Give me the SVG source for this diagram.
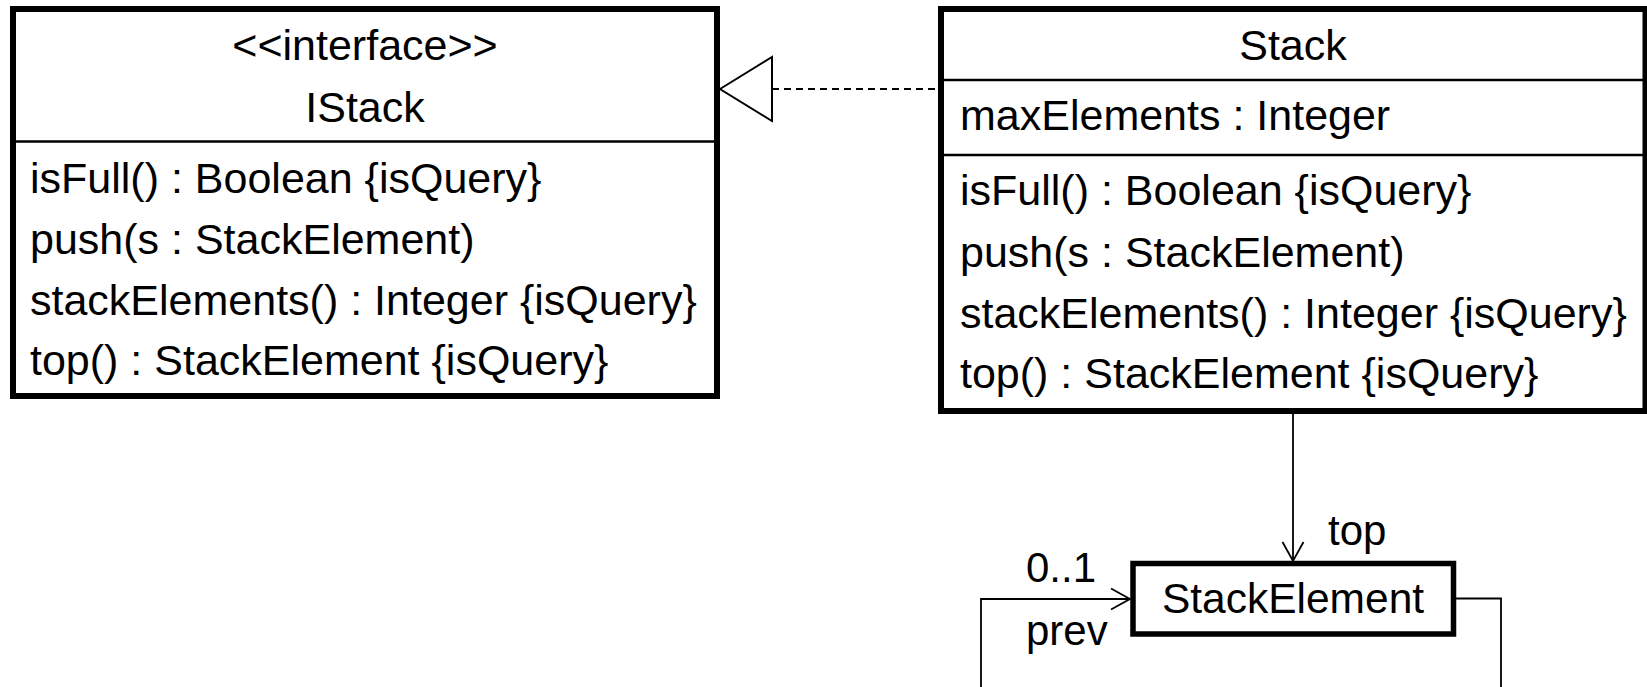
<svg xmlns="http://www.w3.org/2000/svg" width="1647" height="687" viewBox="0 0 1647 687">
<style>
  text { font-family: "Liberation Sans", Arial, sans-serif; font-size: 42px; fill: #000; }
  .b { font-size: 43px; }
  .c { text-anchor: middle; }
  .box { fill: #fff; stroke: #000; stroke-width: 6; }
  .sep { stroke: #000; stroke-width: 2.5; }
  .conn { fill: none; stroke: #000; stroke-width: 1.8; }
  .dash { fill: none; stroke: #000; stroke-width: 2; stroke-dasharray: 7 5; }
  .tri { fill: #fff; stroke: #000; stroke-width: 2; }
</style>
<defs>
  <marker id="open" viewBox="0 0 22 24" refX="20" refY="12" markerWidth="22" markerHeight="24" markerUnits="userSpaceOnUse" orient="auto">
    <path d="M1,1.5 L20,12 L1,22.5" fill="none" stroke="#000" stroke-width="1.8"/>
  </marker>
</defs>
<rect width="1647" height="687" fill="#fff"/>

<g id="connectors">
  <line class="dash" x1="772" y1="89" x2="938" y2="89"/>
  <polygon class="tri" points="720,89 772,57 772,121"/>
  <line class="conn" x1="1293" y1="414" x2="1293" y2="561" marker-end="url(#open)"/>
  <path class="conn" d="M1456,598.5 H1501 V720 H981 V599 H1130" marker-end="url(#open)"/>
  <text x="1328" y="545">top</text>
  <text x="1026" y="582">0..1</text>
  <text x="1026" y="645">prev</text>
</g>

<g id="IStack">
  <rect class="box" x="13" y="9" width="704" height="387"/>
  <line class="sep" x1="16" y1="141.5" x2="714" y2="141.5"/>
  <text class="b c" x="365" y="60">&lt;&lt;interface&gt;&gt;</text>
  <text class="b c" x="365" y="122">IStack</text>
  <text class="b" x="30" y="193">isFull() : Boolean {isQuery}</text>
  <text class="b" x="30" y="253.5">push(s : StackElement)</text>
  <text class="b" x="30" y="314.5">stackElements() : Integer {isQuery}</text>
  <text class="b" x="30" y="375">top() : StackElement {isQuery}</text>
</g>

<g id="Stack">
  <rect class="box" x="941" y="9" width="704.5" height="402"/>
  <line class="sep" x1="944" y1="80" x2="1643" y2="80"/>
  <line class="sep" x1="944" y1="155" x2="1643" y2="155"/>
  <text class="b c" x="1293" y="60">Stack</text>
  <text class="b" x="960" y="130">maxElements : Integer</text>
  <text class="b" x="960" y="205">isFull() : Boolean {isQuery}</text>
  <text class="b" x="960" y="266.5">push(s : StackElement)</text>
  <text class="b" x="960" y="327.5">stackElements() : Integer {isQuery}</text>
  <text class="b" x="960" y="388">top() : StackElement {isQuery}</text>
</g>

<g id="StackElement">
  <rect class="box" x="1133" y="563.5" width="320.5" height="70.5" style="stroke-width:5.5"/>
  <text class="c" x="1293" y="613" style="font-size:42.5px">StackElement</text>
</g>
</svg>
